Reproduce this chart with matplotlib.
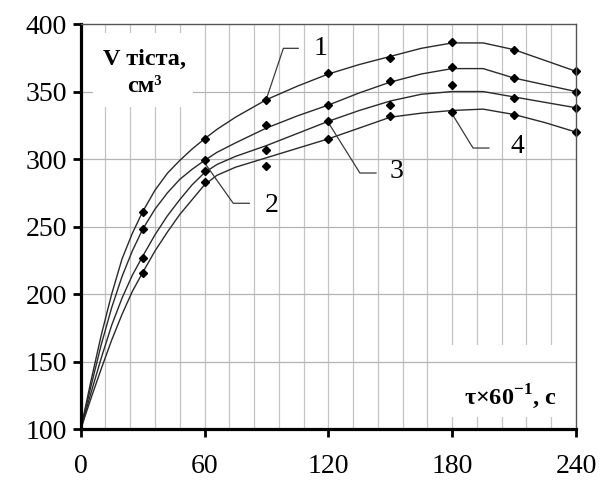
import matplotlib
matplotlib.use("Agg")
from matplotlib import pyplot as plt
from matplotlib.patches import Rectangle
import numpy as np

plt.rcParams['font.family'] = ['Liberation Serif', 'DejaVu Serif']
plt.rcParams['mathtext.fontset'] = 'custom'
plt.rcParams['mathtext.rm'] = 'Liberation Serif'
plt.rcParams['mathtext.bf'] = 'Liberation Serif:bold'

# measured points (time, min)
t_pts = [30, 60, 90, 120, 150, 180, 210, 240]
v1_pts = [261, 315, 344, 364, 375, 387, 381, 365]
v2_pts = [248, 299, 325, 340, 358, 368, 360, 350]
v3_pts = [227, 291, 307, 328, 340, 355, 345, 338]
v4_pts = [216, 283, 295, 315, 332, 335, 333, 320]

# smoothed curves
t_line = [0, 5, 10, 15, 20, 25, 30, 36, 42, 48, 54, 60, 66, 75, 90, 105, 120,
          135, 150, 165, 180, 195, 210, 225, 240]
v1_line = [100, 136, 170, 200, 226, 245, 261, 277, 289.5, 299, 307.5, 315, 322,
           331, 344, 354, 363, 370, 376, 382, 386, 386, 381, 373, 365]
v2_line = [100, 132, 163, 190, 213, 232, 248, 263, 275, 285, 292.5, 299, 305,
           312, 323, 332, 340, 349, 357, 363, 367, 367, 360, 355, 350]
v3_line = [100, 127, 153, 177, 197, 214, 228, 244, 258, 270, 281, 290, 296,
           302, 310, 319, 328, 336, 343, 348, 350, 350, 346, 342, 338]
v4_line = [100, 123, 145, 166, 185, 202, 216, 232, 246, 259, 270, 281, 288,
           294, 301, 308, 315, 323, 331, 334, 336, 337, 333, 327, 320]

# curve labels: text, anchor on curve, elbow, text position
labels = ["1", "2", "3", "4"]
lead_pts = [[(89.8, 343.7), (98.2, 382), (105.4, 382)],
            [(60.2, 296.9), (73.9, 267.3), (81.7, 267.3)],
            [(119.8, 327.5), (135.3, 289.7), (143.1, 289.7)],
            [(179.4, 334.9), (190.1, 308.2), (197.8, 308.2)]]
text_pos = [(116.4, 382.2), (92.7, 266), (153.2, 290.5), (211.4, 309)]

fig = plt.figure(figsize=(6, 4.84), dpi=100)
ax = fig.add_axes([0.1345, 0.113, 0.8255, 0.8374])

ax.set_xlim(0, 240)
ax.set_ylim(100, 400)

# grid: vertical lines behind both white boxes, horizontal ones in between
for x in np.arange(12, 240, 12):
    ax.axvline(x, color='#c4c4c4', lw=0.9, zorder=1)
for y in [150, 200, 250, 300, 350]:
    ax.axhline(y, color='#b4b4b4', lw=0.9, zorder=2)

ax.add_patch(Rectangle((0.715, 0.03), 0.28, 0.178, transform=ax.transAxes,
                       facecolor='white', edgecolor='none', zorder=1.5))
ax.add_patch(Rectangle((0.025, 0.795), 0.202, 0.183, transform=ax.transAxes,
                       facecolor='white', edgecolor='none', zorder=2.5))

for vl in [v1_line, v2_line, v3_line, v4_line]:
    ax.plot(t_line, vl, color='#2a2a2a', lw=1.0, zorder=3)
for vp in [v1_pts, v2_pts, v3_pts, v4_pts]:
    ax.plot(t_pts, vp, 'D', color='black', markersize=4.2, zorder=4,
            clip_on=False)

for lab, pts, tp in zip(labels, lead_pts, text_pos):
    xs = [p[0] for p in pts]
    ys = [p[1] for p in pts]
    ax.plot(xs, ys, color='#3a3a3a', lw=0.9, zorder=3)
    ax.text(tp[0], tp[1], lab, fontsize=20, ha='center', va='center', zorder=5)

ax.text(0.128, 0.879, 'V тіста,\nсм³', transform=ax.transAxes, fontsize=17.5,
        fontweight='bold', ha='center', va='center', linespacing=1.35, zorder=5)
ax.text(0.868, 0.08, r'τ×60$^{\mathbf{-1}}$, c', transform=ax.transAxes,
        fontsize=17.5, fontweight='bold', ha='center', va='center', zorder=5)

ax.set_xticks([0, 60, 120, 180, 240])
ax.set_yticks([100, 150, 200, 250, 300, 350, 400])
ax.tick_params(axis='both', which='major', direction='out', length=6, width=2,
               labelsize=20, color='black')
ax.tick_params(axis='x', pad=12)
ax.tick_params(axis='y', pad=4)

ax.spines['left'].set_linewidth(2.3)
ax.spines['bottom'].set_linewidth(2.3)
ax.spines['top'].set_linewidth(1.0)
ax.spines['right'].set_linewidth(1.0)
ax.spines['top'].set_color('#555555')
ax.spines['right'].set_color('#555555')
for s in ax.spines.values():
    s.set_zorder(6)

plt.savefig('out.png', dpi=100)
